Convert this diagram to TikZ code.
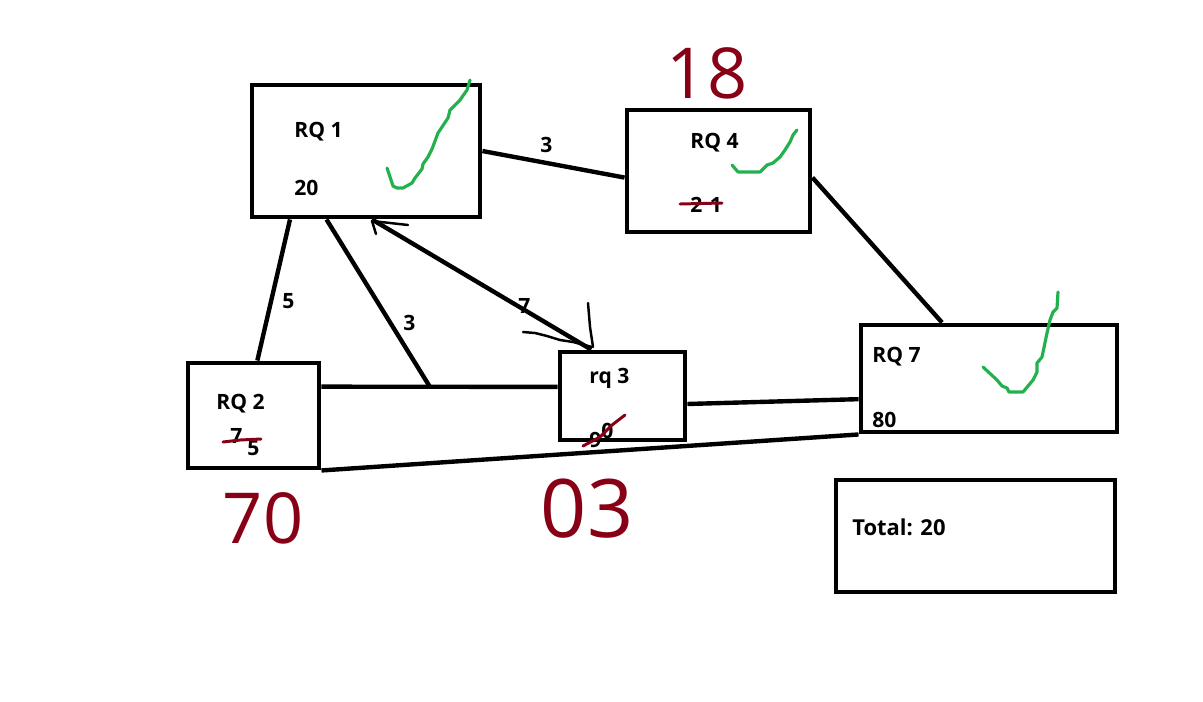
\documentclass[tikz,border=0pt]{standalone}
\usepackage{fontspec}
\setmainfont{Open Sans}
\definecolor{inkred}{HTML}{880015}
\definecolor{inkgreen}{HTML}{22B14C}
\begin{document}
\begin{tikzpicture}[x=0.02cm, y=-0.02cm,
  font=\fontsize{12}{14}\selectfont\bfseries,
  box/.style 2 args={draw, line width=2.8pt, minimum width=#1,
                     minimum height=#2, inner sep=0pt},
  txt/.style={anchor=base west, inner sep=0pt},
  link/.style={line width=2.5pt},
  checkmark/.style={inkgreen, line width=1.8pt, line join=round, line cap=round},
  strike/.style={inkred, line width=1.7pt, line join=round, line cap=round},
  scrib/.style={line width=1.4pt, line join=round, line cap=round},
  note/.style={inkred, font=\fontsize{40}{40}\selectfont, inner sep=0pt}
]
  \useasboundingbox[fill=white] (0,0) rectangle (1203,701);
  \node[box={4.56cm}{2.64cm}] (rq1)   at (366,151)   {};
  \node[box={3.66cm}{2.44cm}] (rq4)   at (718.5,171) {};
  \node[box={2.62cm}{2.10cm}] (rq2)   at (253.5,415.5) {};
  \node[box={2.50cm}{1.76cm}] (rq3)   at (622.5,396) {};
  \node[box={5.12cm}{2.14cm}] (rq7)   at (989,378.5) {};
  \node[box={5.58cm}{2.24cm}] (total) at (975.5,536) {};
  \coordinate (junc) at (430,387);
  \draw[link] (rq1.east)        -- (rq4.184);
  \draw[link] (rq4.356)         -- (rq7.130);
  \draw[link] (rq1.222)         -- (rq2.86);
  \draw[link] (rq1.240)         -- (junc);
  \draw[link] (rq2.23)          -- (rq3.172);
  \draw[link] (rq3.353)         -- (rq7.189);
  \draw[link] (rq2.south east)  -- (rq7.south west);
  \draw[link] (rq3.124)         -- (rq1.275);
  \draw[scrib] (372,221) -- (408,225);
  \draw[scrib] (372,221) -- (376,234);
  \draw[scrib] (523,332) -- (535,333) -- (547,336) -- (560,340) -- (573,342) -- (592,347);
  \draw[scrib] (588,303) -- (590,327) -- (593,347);
  \node[txt] (w14) at (540,152) {3};
  \node[txt] (w12) at (282,308) {5};
  \node[txt] (w1j) at (403,330) {3};
  \node[txt] (w13) at (518,313) {7};
  \node[txt] (rq1name) at (294,137) {RQ 1};
  \node[txt] (rq1val)  at (294,195) {20};
  \node[txt] (rq4name) at (690,148) {RQ 4};
  \node[txt] (rq4val)  at (690,212) {2\hspace{0.35em}1};
  \node[txt] (rq2name) at (216,409) {RQ 2};
  \node[txt] (rq2old)  at (230,443) {7};
  \node[txt] (rq2val)  at (247,455) {5};
  \node[txt] (rq3name) at (589,383) {rq 3};
  \node[txt] (rq3old)  at (589,447) {9};
  \node[txt] (rq3val)  at (601,438) {0};
  \node[txt] (rq7name) at (872,362) {RQ 7};
  \node[txt] (rq7val)  at (872,427) {80};
  \node[txt, font=\fontsize{12.5}{15}\selectfont\bfseries] (sum) at (852,535) {Total: 20};
  \draw[strike] (680,204) -- (722,203);
  \draw[strike] (223,442) -- (240,440) -- (261,439);
  \draw[strike] (583,446) -- (600,437) -- (612,425) -- (625,415);
  \draw[checkmark] (387,168) -- (393,186) -- (397,188) -- (403,188) -- (412,183) -- (415,178)
    -- (422,169) -- (423,164) -- (428,157) -- (432,149) -- (438,133) -- (448,118)
    -- (450,110) -- (460,100) -- (467,90) -- (470,80);
  \draw[checkmark] (732,165) -- (738,172) -- (760,172) -- (767,165) -- (773,163) -- (780,157)
    -- (785,150) -- (790,142) -- (793,135) -- (797,130);
  \draw[checkmark] (983,367) -- (997,380) -- (1002,386) -- (1007,388) -- (1009,392) -- (1023,392)
    -- (1033,380) -- (1037,372) -- (1037,363) -- (1042,357) -- (1047,333) -- (1050,320)
    -- (1053,312) -- (1057,308) -- (1058,292);
  \node[note] (n4) at (707,73)  {18};
  \node[note] (n2) at (263,518) {70};
  \node[note, font=\fontsize{46}{46}\selectfont] (n3) at (587,509) {03};
\end{tikzpicture}
\end{document}
